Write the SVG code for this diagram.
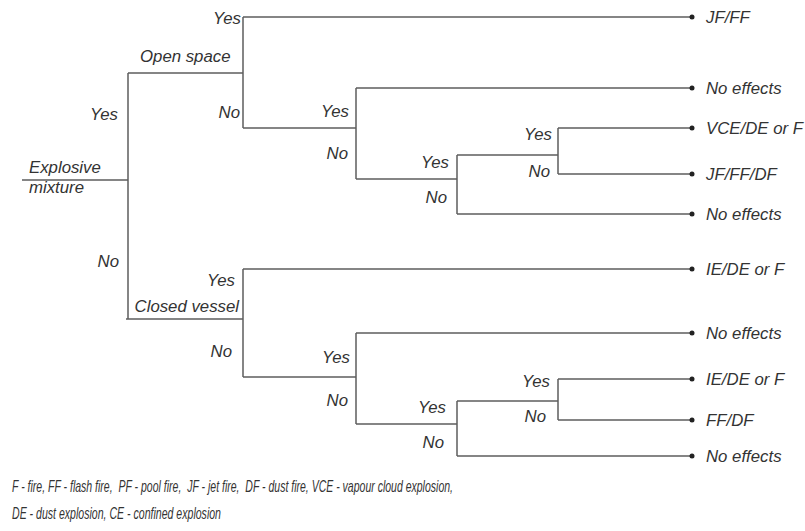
<svg xmlns="http://www.w3.org/2000/svg" width="805" height="531" viewBox="0 0 805 531">
<style>
text{font-family:"Liberation Sans",Arial,sans-serif;font-style:italic;font-size:16.8px;fill:#333}
.e{text-anchor:end}
.c path{fill:none;stroke:#5e5e5e;stroke-width:1.5}
.d{fill:#222}
.lg{font-size:17px}
</style>
<rect width="805" height="531" fill="#fff"/>
<g id="connectors" class="c">
<path d="M22,180H128M128,73V319M128,73H243M126,319H243"/>
<path d="M243,17V128M243,17H692M243,128H356M356,88V179M356,88H692M356,179H457M457,155V214M457,155H558M558,128V174M558,128H692M558,174H692M457,214H692"/>
<path d="M243,269V377M243,269H692M243,377H356M356,333V424M356,333H692M356,424H457M457,401V456M457,401H558M558,379V420M558,379H692M558,420H692M457,456H692"/>
</g>
<g id="root"><text x="29" y="173">Explosive</text><text x="29" y="193">mixture</text>
<text class="e" x="118" y="120">Yes</text><text class="e" x="119" y="267">No</text></g>
<g id="open-space"><text x="140" y="62">Open space</text><text class="e" x="241" y="24">Yes</text><text class="e" x="240" y="118">No</text></g>
<g id="os-n1"><text class="e" x="349" y="117">Yes</text><text class="e" x="348" y="159">No</text></g>
<g id="os-n2"><text class="e" x="449" y="168">Yes</text><text class="e" x="447" y="203">No</text></g>
<g id="os-n3"><text class="e" x="552" y="140">Yes</text><text class="e" x="550" y="177">No</text></g>
<g id="closed-vessel"><text class="e" x="239" y="312">Closed vessel</text><text class="e" x="235" y="286">Yes</text><text class="e" x="232" y="357">No</text></g>
<g id="cv-n1"><text class="e" x="350" y="363">Yes</text><text class="e" x="348" y="406">No</text></g>
<g id="cv-n2"><text class="e" x="446" y="413">Yes</text><text class="e" x="444" y="448">No</text></g>
<g id="cv-n3"><text class="e" x="550" y="387">Yes</text><text class="e" x="546" y="422">No</text></g>
<g id="out1"><circle class="d" cx="692" cy="17" r="2.5"/><text x="706" y="23">JF/FF</text></g>
<g id="out2"><circle class="d" cx="692" cy="88" r="2.5"/><text x="706" y="94">No effects</text></g>
<g id="out3"><circle class="d" cx="692" cy="128" r="2.5"/><text x="706" y="134">VCE/DE or F</text></g>
<g id="out4"><circle class="d" cx="692" cy="174" r="2.5"/><text x="706" y="180">JF/FF/DF</text></g>
<g id="out5"><circle class="d" cx="692" cy="214" r="2.5"/><text x="706" y="220">No effects</text></g>
<g id="out6"><circle class="d" cx="692" cy="269" r="2.5"/><text x="706" y="275">IE/DE or F</text></g>
<g id="out7"><circle class="d" cx="692" cy="333" r="2.5"/><text x="706" y="339">No effects</text></g>
<g id="out8"><circle class="d" cx="692" cy="379" r="2.5"/><text x="706" y="385">IE/DE or F</text></g>
<g id="out9"><circle class="d" cx="692" cy="420" r="2.5"/><text x="706" y="426">FF/DF</text></g>
<g id="out10"><circle class="d" cx="692" cy="456" r="2.5"/><text x="706" y="462">No effects</text></g>
<g id="legend">
<text class="lg" x="12" y="492" textLength="441" lengthAdjust="spacingAndGlyphs" xml:space="preserve">F - fire, FF - flash fire,  PF - pool fire,  JF - jet fire,  DF - dust fire, VCE - vapour cloud explosion,</text>
<text class="lg" x="12" y="519" textLength="209" lengthAdjust="spacingAndGlyphs">DE - dust explosion, CE - confined explosion</text>
</g>
</svg>
